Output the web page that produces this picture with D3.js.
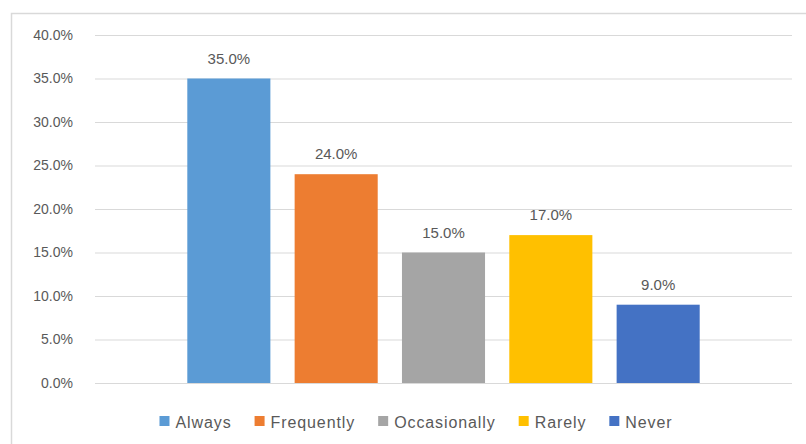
<!DOCTYPE html>
<html>
<head>
<meta charset="utf-8">
<script src="https://cdn.jsdelivr.net/npm/d3@7"></script>
<style>
  body { margin: 0; background: #fff; }
  svg { display: block; font-family: "Liberation Sans", Arial, sans-serif; }
</style>
</head>
<body>
<svg id="chart" width="806" height="444"></svg>
<script>
// data
var seriesNames = ['Always', 'Frequently', 'Occasionally', 'Rarely', 'Never'];
var seriesValues = [0.35, 0.24, 0.15, 0.17, 0.09];
var seriesColors = ['#5B9BD5', '#ED7D31', '#A5A5A5', '#FFC000', '#4472C4'];
var tickValues = [0, 0.05, 0.10, 0.15, 0.20, 0.25, 0.30, 0.35, 0.40];

var svg = d3.select('#chart'),
	margin = { top: 35, right: 14, bottom: 61, left: 95 },
	width = 806 - margin.left - margin.right,
	height = 444 - margin.top - margin.bottom;

// chart border (only top and left visible in frame)
svg.append('rect')
	.attr('x', 11.5).attr('y', 13.5)
	.attr('width', 900).attr('height', 600)
	.attr('fill', 'none')
	.attr('stroke', '#d9d9d9')
	.attr('stroke-width', 1.5);

var g = svg.append('g')
	.attr('transform', 'translate(' + margin.left + ',' + margin.top + ')');

var yScale = d3.scaleLinear()
	.domain([0, 0.4])
	.range([height, 0]);

// one category, five series side by side
var xScale = d3.scaleBand()
	.domain(seriesNames)
	.range([0, width])
	.paddingInner(0.226)
	.paddingOuter(0.86);

var fmt = d3.format('.1%');

// gridlines + tick labels
var yAxis = d3.axisLeft(yScale)
	.tickValues(tickValues)
	.tickFormat(fmt)
	.tickSize(-width)
	.tickPadding(22);

var axisG = g.append('g').call(yAxis);
axisG.select('.domain').remove();
axisG.selectAll('.tick line').attr('stroke', '#d9d9d9').attr('stroke-width', 1.2);
axisG.selectAll('.tick text')
	.attr('fill', '#595959')
	.style('font-size', '14px')
	.style('font-family', '"Liberation Sans", Arial, sans-serif');

// bars
g.selectAll('.bar')
	.data(seriesValues)
	.enter()
	.append('rect')
	.attr('class', 'bar')
	.attr('x', function(d, i) { return xScale(seriesNames[i]); })
	.attr('y', function(d) { return yScale(d); })
	.attr('width', xScale.bandwidth())
	.attr('height', function(d) { return height - yScale(d); })
	.attr('fill', function(d, i) { return seriesColors[i]; });

// value labels
g.selectAll('.val')
	.data(seriesValues)
	.enter()
	.append('text')
	.attr('class', 'val')
	.attr('x', function(d, i) { return xScale(seriesNames[i]) + xScale.bandwidth() / 2; })
	.attr('y', function(d) { return yScale(d) - 15; })
	.attr('text-anchor', 'middle')
	.attr('fill', '#595959')
	.style('font-size', '15px')
	.text(function(d) { return fmt(d); });

// legend, centred under chart
var legend = svg.append('g').attr('transform', 'translate(0,422)');
var items = legend.selectAll('.item')
	.data(seriesNames)
	.enter()
	.append('g')
	.attr('class', 'item');

items.append('rect')
	.attr('x', 0).attr('y', -6)
	.attr('width', 10).attr('height', 10)
	.attr('fill', function(d, i) { return seriesColors[i]; });

items.append('text')
	.attr('x', 16)
	.attr('y', 5.5)
	.attr('fill', '#595959')
	.style('font-size', '16px')
	.style('letter-spacing', '0.9px')
	.text(function(d) { return d; });

var xPos = 0, positions = [];
items.each(function() {
	positions.push(xPos);
	var w = d3.select(this).select('text').node().getComputedTextLength();
	xPos += 16 + w + 23;
});
var total = xPos - 23;
var start = 416 - total / 2;
items.attr('transform', function(d, i) { return 'translate(' + (start + positions[i]) + ',0)'; });
</script>
</body>
</html>
